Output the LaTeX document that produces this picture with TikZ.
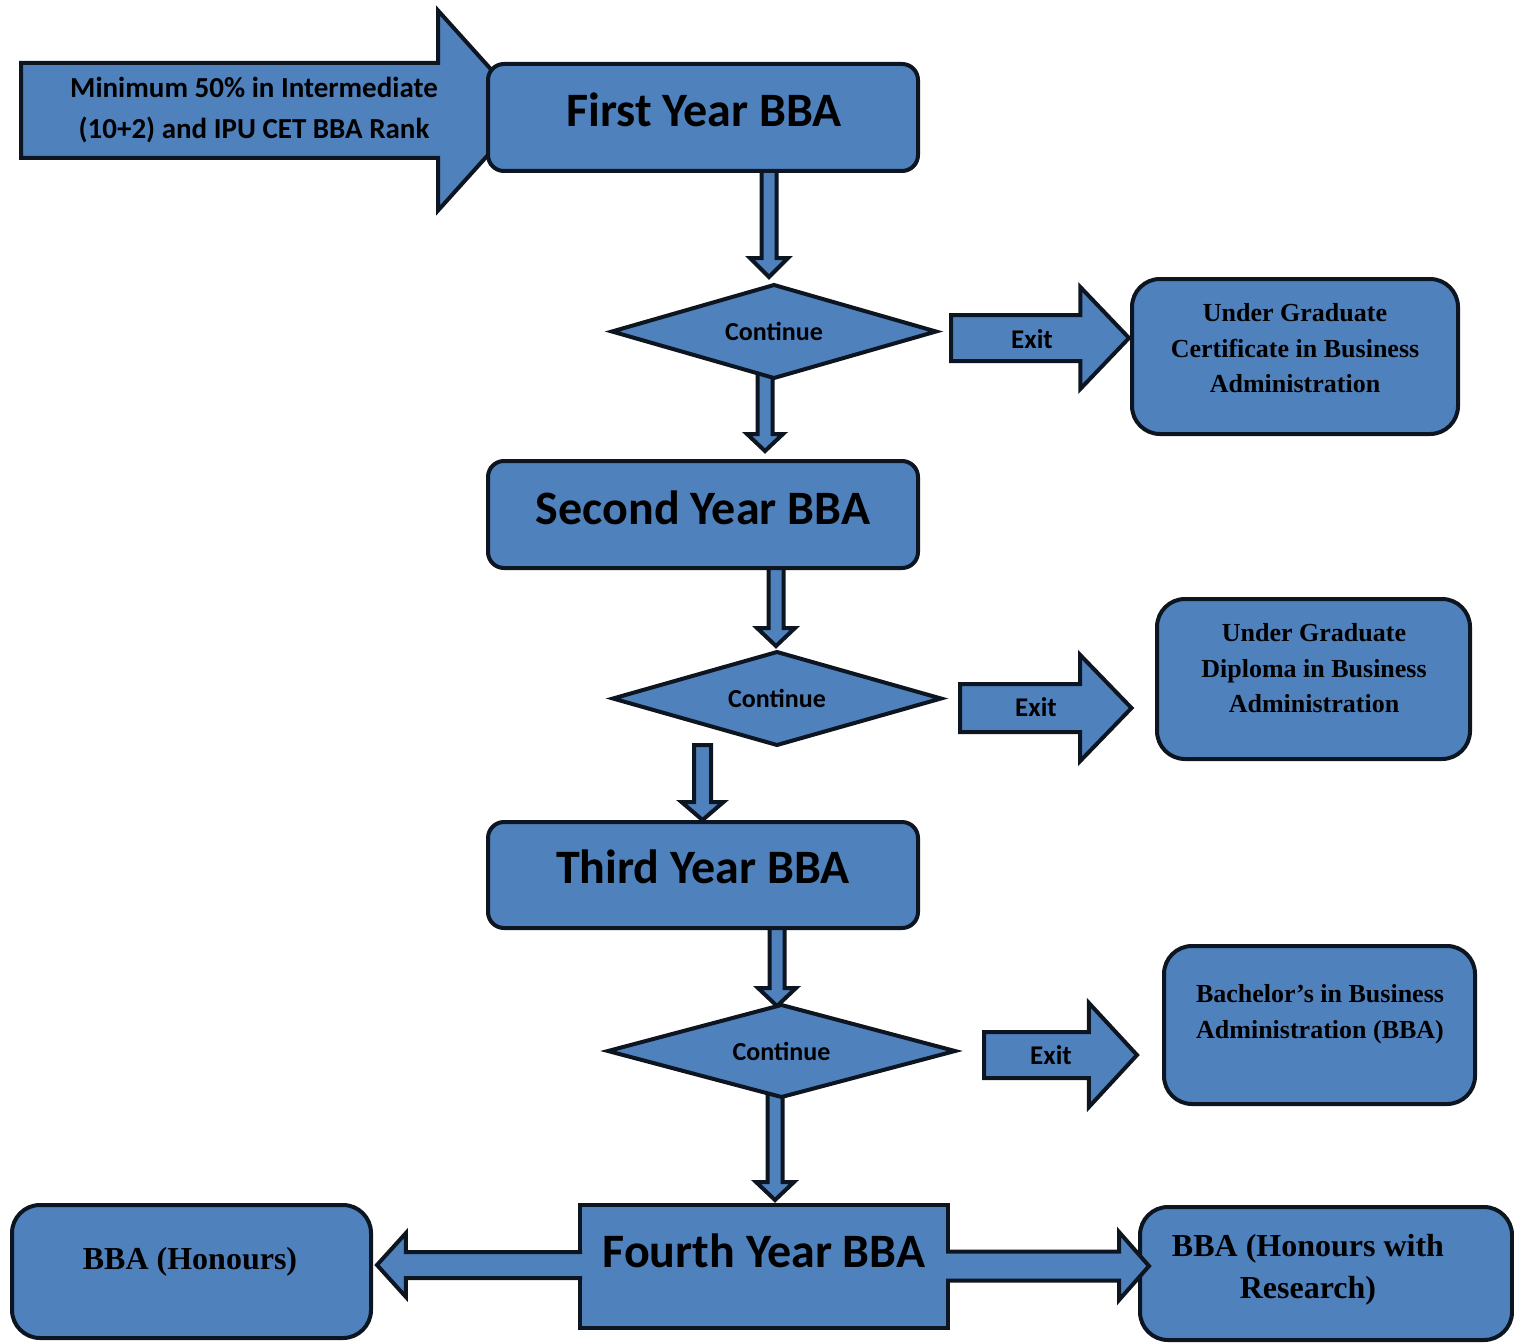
\documentclass[tikz,border=0pt]{standalone}
\usepackage{fontspec}
\setmainfont{Carlito}
\newfontfamily\serifb{Liberation Serif}
\usetikzlibrary{shapes.geometric,calc,backgrounds}
\definecolor{boxblue}{RGB}{79,129,189}
\definecolor{edgec}{RGB}{13,21,32}
\tikzset{
  yearbox/.style={draw=edgec, fill=boxblue, line width=4pt, rounded corners=16pt,
    minimum width=430pt, minimum height=107pt, inner sep=0pt, outer sep=0pt},
  outbox/.style={draw=edgec, fill=boxblue, line width=4pt, rounded corners=28pt,
    inner sep=0pt, outer sep=0pt},
  dia/.style={diamond, aspect=3.5, draw=edgec, fill=boxblue, line width=4pt, inner sep=0pt,
    outer sep=0pt, font=\bfseries\fontsize{26}{30}\selectfont},
  fat/.style={draw=edgec, fill=boxblue, line width=4pt, line join=miter},
  yeartext/.style={font=\bfseries\fontsize{48}{56}\selectfont, inner sep=0pt},
  intext/.style={font=\bfseries\fontsize{29}{41}\selectfont, align=center, inner sep=0pt},
  outtext/.style={font=\serifb\bfseries\fontsize{26}{35.5}\selectfont, align=center, inner sep=0pt},
  bigout/.style={font=\serifb\bfseries\fontsize{32}{42}\selectfont, align=center, inner sep=0pt},
  exittext/.style={font=\bfseries\fontsize{27}{30}\selectfont, inner sep=0pt},
}
% vertical block arrow: #1 start, #2 tip, #3 shaft half, #4 head half, #5 head length, #6 closing
\newcommand\vfat[6]{%
  \draw[fat] let \p1=(#1),\p2=(#2),\p3=($(#2)!#5!(#1)$) in
    (\x1-#3,\y1) -- (\x1-#3,\y3) -- (\x1-#4,\y3) -- (\x1,\y2) --
    (\x1+#4,\y3) -- (\x1+#3,\y3) -- (\x1+#3,\y1) #6;}
% horizontal block arrow
\newcommand\hfat[6]{%
  \draw[fat] let \p1=(#1),\p2=(#2),\p3=($(#2)!#5!(#1)$) in
    (\x1,\y1+#3) -- (\x3,\y1+#3) -- (\x3,\y1+#4) -- (\x2,\y1) --
    (\x3,\y1-#4) -- (\x3,\y1-#3) -- (\x1,\y1-#3) #6;}
\begin{document}
\begin{tikzpicture}[x=1pt,y=-1pt]
\useasboundingbox (0,0) rectangle (1514,1343);

% year boxes
\node[yearbox] (fy) at (703,117.5) {};
\node[yeartext] (fyt) at (704,110) {First Year BBA};
\node[yearbox] (sy) at (703,514.5) {};
\node[yeartext] (syt) at (703,508) {Second Year BBA};
\node[yearbox, minimum height=106pt] (ty) at (703,875) {};
\node[yeartext] (tyt) at (703,867) {Third Year BBA};
\node[yearbox, rounded corners=0pt, minimum width=368pt, minimum height=123pt] (fourth) at (764,1266.5) {};
\node[yeartext] (fourtht) at (764,1251) {Fourth Year BBA};

% decisions
\node[dia, minimum width=324pt, minimum height=93pt] (d1) at (774,331.5) {Continue};
\node[dia, minimum width=328pt, minimum height=93pt] (d2) at (777,698.5) {Continue};
\node[dia, minimum width=347pt, minimum height=92pt] (d3) at (781.5,1051) {Continue};

% outcome boxes
\node[outbox, minimum width=326pt, minimum height=155pt] (c1) at (1295,356.5) {};
\node[outtext] (c1t) at (1295,348.5) {Under Graduate\\Certificate in Business\\Administration};
\node[outbox, minimum width=313pt, minimum height=160pt] (c2) at (1313.5,679) {};
\node[outtext] (c2t) at (1314,668.5) {Under Graduate\\Diploma in Business\\Administration};
\node[outbox, minimum width=311pt, minimum height=158pt] (c3) at (1319.5,1025) {};
\node[outtext] (c3t) at (1320,1014) {Bachelor’s in Business\\Administration (BBA)};
\node[outbox, minimum width=359pt, minimum height=133pt] (h1) at (191.5,1271.5) {};
\node[bigout] (h1t) at (190,1262) {BBA (Honours)};
\node[outbox, minimum width=372pt, minimum height=133pt] (h2) at (1326,1273.5) {};
\node[bigout] (h2t) at (1308,1270) {BBA (Honours with\\Research)};

\coordinate (inp) at (21,110.5);

\begin{pgfonlayer}{background}
  % entry arrow
  \hfat{inp}{$(fy.west)+(40,0)$}{47.5pt}{100pt}{90pt}{-- cycle}
  % downward arrows
  \vfat{$(fy.south)+(66,-6)$}{$(d1.north)+(-5,-8)$}{7.5pt}{19pt}{19pt}{}
  \vfat{$(d1.south)+(-9,-6)$}{$(sy.north)+(62,-10)$}{7.5pt}{18pt}{17pt}{}
  \vfat{$(sy.south)+(73,-6)$}{$(d2.north)+(0,-6)$}{7.5pt}{19pt}{18pt}{}
  \vfat{$(d2.south)+(-74.5,0)$}{$(ty.north)+(0,-2)$}{8.5pt}{21pt}{18pt}{-- cycle}
  \vfat{$(ty.south)+(74,-6)$}{$(d3.north)+(-4,1)$}{7.5pt}{19pt}{18pt}{}
  \vfat{$(d3.south)+(-6.5,-6)$}{$(fourth.north)+(11,-5)$}{7.5pt}{19pt}{18pt}{}
\end{pgfonlayer}

% exit arrows
\hfat{$(d1.east)+(15,6.5)$}{$(c1.west)+(-3,0)$}{23pt}{51pt}{49pt}{-- cycle}
\hfat{$(d2.east)+(19,9.5)$}{$(c2.west)+(-25.5,0)$}{24pt}{53pt}{52pt}{-- cycle}
\hfat{$(d3.east)+(29,4)$}{$(c3.west)+(-27,0)$}{23pt}{52pt}{49pt}{-- cycle}
\node[exittext] (x1) at (1032,339) {Exit};
\node[exittext] (x2) at (1036,707) {Exit};
\node[exittext] (x3) at (1051,1055) {Exit};

% fourth year side arrows
\hfat{$(fourth.west)+(2,-1.5)$}{$(h1.east)+(6,0)$}{13pt}{32pt}{29pt}{}
\hfat{$(fourth.east)+(-2,-0.5)$}{$(h2.west)+(9,0)$}{14.5pt}{34pt}{30pt}{}

% entry text
\node[intext] (intxt) at (254,110.5) {Minimum 50\% in Intermediate\\(10+2) and IPU CET BBA Rank};
\end{tikzpicture}
\end{document}
